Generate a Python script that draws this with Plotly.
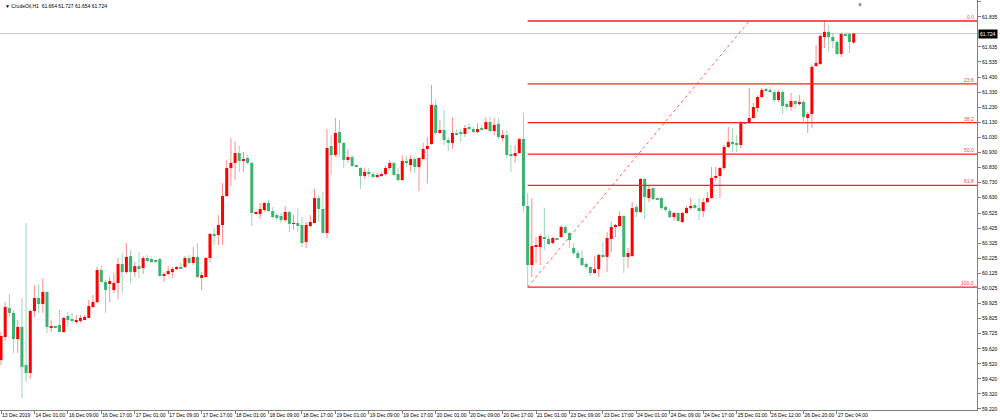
import plotly.graph_objects as go

# ---------------- data (CrudeOil, H1) ----------------
x_labels = ["13 Dec 2019", "14 Dec 01:00", "16 Dec 09:00", "16 Dec 17:00", "17 Dec 01:00",
            "17 Dec 09:00", "17 Dec 17:00", "18 Dec 01:00", "18 Dec 09:00", "18 Dec 17:00",
            "19 Dec 01:00", "19 Dec 09:00", "19 Dec 17:00", "20 Dec 01:00", "20 Dec 09:00",
            "20 Dec 17:00", "21 Dec 01:00", "23 Dec 09:00", "23 Dec 17:00", "24 Dec 01:00",
            "24 Dec 09:00", "24 Dec 17:00", "25 Dec 01:00", "26 Dec 12:00", "26 Dec 20:00",
            "27 Dec 04:00"]
label_step = 8

y_labels = ["61.935", "61.835", "61.635", "61.535", "61.430", "61.330", "61.230",
            "61.130", "61.030", "60.930", "60.830", "60.730", "60.630", "60.525", "60.425",
            "60.325", "60.225", "60.125", "60.025", "59.925", "59.825", "59.725", "59.620",
            "59.520", "59.420", "59.320", "59.220"]

opens = [
    59.546, 59.700, 59.893, 59.860, 59.686, 59.767, 59.513, 59.460, 59.873, 59.960,
    59.920, 60.000, 59.760, 59.767, 59.780, 59.733, 59.840, 59.820, 59.800, 59.807,
    59.820, 59.827, 59.900, 59.933, 60.147, 60.067, 60.060, 60.013, 60.060, 60.187,
    60.133, 60.240, 60.133, 60.173, 60.160, 60.227, 60.220, 60.207, 60.220, 60.107,
    60.120, 60.133, 60.153, 60.167, 60.167, 60.227, 60.194, 60.234, 60.100, 60.100,
    60.227, 60.387, 60.380, 60.447, 60.640, 60.827, 60.861, 60.927, 60.874, 60.894,
    60.861, 60.527, 60.520, 60.547, 60.594, 60.540, 60.514, 60.507, 60.480, 60.534,
    60.454, 60.460, 60.447, 60.334, 60.440, 60.460, 60.627, 60.554, 60.394, 60.974,
    60.914, 61.067, 60.994, 60.881, 60.901, 60.841, 60.827, 60.774, 60.801, 60.787,
    60.767, 60.774, 60.787, 60.827, 60.861, 60.787, 60.747, 60.874, 60.847, 60.887,
    60.834, 60.887, 60.954, 60.987, 61.248, 61.061, 61.081, 61.014, 60.994, 61.061,
    61.061, 61.054, 61.101, 61.087, 61.067, 61.094, 61.087, 61.134, 61.074, 61.121,
    61.034, 61.047, 60.921, 60.907, 60.927, 61.021, 60.574, 60.180, 60.300, 60.300,
    60.367, 60.354, 60.327, 60.354, 60.367, 60.434, 60.394, 60.294, 60.260, 60.227,
    60.187, 60.167, 60.127, 60.153, 60.247, 60.234, 60.354, 60.434, 60.440, 60.507,
    60.234, 60.240, 60.567, 60.534, 60.754, 60.627, 60.694, 60.620, 60.627, 60.567,
    60.540, 60.500, 60.527, 60.467, 60.527, 60.560, 60.580, 60.560, 60.540, 60.600,
    60.627, 60.761, 60.774, 60.827, 60.967, 61.001, 60.994, 60.981, 61.127, 61.127,
    61.161, 61.228, 61.301, 61.348, 61.348, 61.334, 61.281, 61.334, 61.254, 61.234,
    61.274, 61.254, 61.268, 61.161, 61.187, 61.508, 61.521, 61.701, 61.735, 61.701,
    61.668, 61.588, 61.714, 61.721, 61.664]

highs = [
    59.733, 59.933, 59.987, 59.880, 59.813, 59.960, 60.460, 59.880, 60.047, 60.053,
    60.093, 60.007, 59.813, 59.773, 59.880, 59.833, 59.867, 59.860, 59.847, 59.847,
    59.847, 59.947, 59.980, 60.167, 60.180, 60.080, 60.100, 60.127, 60.227, 60.260,
    60.327, 60.280, 60.200, 60.267, 60.240, 60.247, 60.227, 60.214, 60.227, 60.133,
    60.173, 60.167, 60.173, 60.194, 60.240, 60.247, 60.300, 60.327, 60.133, 60.234,
    60.394, 60.427, 60.514, 60.727, 60.881, 61.027, 61.001, 60.974, 60.934, 60.914,
    60.867, 60.540, 60.594, 60.600, 60.614, 60.567, 60.527, 60.527, 60.574, 60.540,
    60.514, 60.560, 60.500, 60.467, 60.514, 60.687, 60.647, 60.667, 61.087, 61.047,
    61.161, 61.147, 61.001, 60.954, 60.914, 60.847, 60.834, 60.827, 60.827, 60.801,
    60.794, 60.801, 60.841, 60.881, 60.867, 60.827, 60.914, 60.907, 60.914, 60.901,
    60.901, 60.994, 61.034, 61.381, 61.288, 61.147, 61.214, 61.034, 61.167, 61.087,
    61.087, 61.114, 61.127, 61.101, 61.127, 61.114, 61.167, 61.167, 61.161, 61.161,
    61.081, 61.081, 60.981, 60.981, 61.027, 61.194, 60.660, 60.627, 60.367, 60.387,
    60.560, 60.380, 60.367, 60.360, 60.447, 60.447, 60.400, 60.327, 60.280, 60.280,
    60.200, 60.173, 60.240, 60.254, 60.334, 60.400, 60.467, 60.454, 60.540, 60.514,
    60.294, 60.600, 60.580, 60.761, 60.761, 60.714, 60.700, 60.627, 60.634, 60.580,
    60.560, 60.534, 60.534, 60.534, 60.574, 60.627, 60.594, 60.627, 60.627, 60.667,
    60.834, 60.834, 60.834, 60.981, 61.101, 61.094, 61.047, 61.141, 61.134, 61.361,
    61.261, 61.314, 61.361, 61.361, 61.368, 61.348, 61.348, 61.348, 61.268, 61.328,
    61.281, 61.314, 61.281, 61.201, 61.514, 61.648, 61.721, 61.808, 61.781, 61.728,
    61.681, 61.728, 61.721, 61.728, 61.727]

lows = [
    59.513, 59.680, 59.833, 59.593, 59.593, 59.293, 59.400, 59.420, 59.833, 59.860,
    59.860, 59.727, 59.733, 59.760, 59.733, 59.727, 59.767, 59.787, 59.787, 59.793,
    59.813, 59.827, 59.893, 59.927, 60.060, 59.860, 59.933, 59.993, 59.953, 59.993,
    60.120, 60.060, 60.100, 60.093, 60.120, 60.200, 60.194, 60.200, 60.100, 60.067,
    60.113, 60.093, 60.147, 60.153, 60.160, 60.187, 60.180, 60.093, 60.013, 60.100,
    60.200, 60.314, 60.314, 60.314, 60.634, 60.707, 60.747, 60.801, 60.801, 60.854,
    60.440, 60.520, 60.487, 60.534, 60.534, 60.494, 60.480, 60.460, 60.467, 60.400,
    60.414, 60.400, 60.300, 60.294, 60.434, 60.460, 60.467, 60.394, 60.360, 60.781,
    60.901, 60.901, 60.827, 60.861, 60.834, 60.834, 60.687, 60.754, 60.767, 60.761,
    60.761, 60.767, 60.774, 60.814, 60.774, 60.741, 60.741, 60.834, 60.801, 60.794,
    60.674, 60.881, 60.727, 60.981, 61.047, 61.054, 60.981, 60.941, 60.954, 61.047,
    61.001, 61.034, 61.081, 61.061, 61.061, 61.081, 61.081, 61.067, 61.047, 61.021,
    61.007, 60.894, 60.801, 60.861, 60.921, 60.534, 60.033, 60.100, 60.194, 60.180,
    60.280, 60.314, 60.320, 60.347, 60.360, 60.387, 60.294, 60.247, 60.214, 60.173,
    60.153, 60.107, 60.120, 60.100, 60.227, 60.133, 60.267, 60.367, 60.434, 60.127,
    60.160, 60.234, 60.500, 60.527, 60.487, 60.600, 60.614, 60.614, 60.547, 60.534,
    60.494, 60.474, 60.467, 60.460, 60.520, 60.547, 60.554, 60.480, 60.500, 60.594,
    60.620, 60.741, 60.627, 60.814, 60.961, 60.934, 60.934, 60.961, 61.121, 61.121,
    61.161, 61.201, 61.294, 61.334, 61.334, 61.268, 61.268, 61.187, 61.214, 61.208,
    61.221, 61.241, 61.134, 61.061, 61.094, 61.501, 61.514, 61.628, 61.601, 61.628,
    61.581, 61.568, 61.708, 61.594, 61.654]

closes = [
    59.707, 59.900, 59.860, 59.686, 59.767, 59.500, 59.460, 59.873, 59.960, 59.920,
    60.000, 59.767, 59.773, 59.765, 59.733, 59.827, 59.813, 59.807, 59.813, 59.827,
    59.833, 59.907, 59.933, 60.147, 60.067, 60.013, 60.073, 60.060, 60.187, 60.133,
    60.234, 60.133, 60.173, 60.160, 60.227, 60.207, 60.200, 60.204, 60.107, 60.120,
    60.140, 60.153, 60.167, 60.157, 60.227, 60.194, 60.234, 60.100, 60.113, 60.227,
    60.387, 60.374, 60.447, 60.640, 60.827, 60.861, 60.927, 60.874, 60.887, 60.861,
    60.527, 60.534, 60.554, 60.594, 60.540, 60.500, 60.494, 60.480, 60.534, 60.454,
    60.460, 60.447, 60.327, 60.447, 60.467, 60.627, 60.554, 60.394, 60.961, 60.914,
    61.061, 60.994, 60.881, 60.901, 60.841, 60.834, 60.774, 60.801, 60.787, 60.767,
    60.781, 60.787, 60.827, 60.861, 60.781, 60.747, 60.874, 60.861, 60.887, 60.834,
    60.894, 60.954, 60.974, 61.248, 61.061, 61.081, 61.014, 60.994, 61.061, 61.054,
    61.057, 61.094, 61.087, 61.067, 61.087, 61.087, 61.134, 61.074, 61.114, 61.034,
    61.047, 60.914, 60.907, 60.927, 61.021, 60.574, 60.180, 60.307, 60.314, 60.374,
    60.354, 60.320, 60.360, 60.347, 60.434, 60.394, 60.347, 60.260, 60.227, 60.180,
    60.167, 60.127, 60.153, 60.247, 60.234, 60.360, 60.434, 60.447, 60.507, 60.234,
    60.260, 60.560, 60.534, 60.754, 60.634, 60.687, 60.620, 60.617, 60.560, 60.547,
    60.500, 60.527, 60.474, 60.527, 60.560, 60.574, 60.560, 60.547, 60.600, 60.627,
    60.761, 60.774, 60.827, 60.967, 61.001, 60.987, 60.981, 61.127, 61.121, 61.161,
    61.234, 61.301, 61.348, 61.341, 61.334, 61.281, 61.334, 61.241, 61.234, 61.274,
    61.254, 61.268, 61.167, 61.187, 61.501, 61.528, 61.708, 61.735, 61.701, 61.674,
    61.588, 61.721, 61.711, 61.668, 61.724]

# Fibonacci retracement anchors (bar index, price)
fib_start_bar, fib_low = 126, 60.033
fib_end_bar, fib_high = 179, 61.808
fib_ratios = [0.0, 0.236, 0.382, 0.5, 0.618, 1.0]

# visible window (bars incl. right chart shift) and price range
x_min, x_max = -0.24, 233.5
y_min, y_max = 59.213, 61.948

# ---------------- styling ----------------
UP = "#ff0000"
DOWN = "#3cb371"
UP_WICK = "rgba(255,0,0,0.45)"
DOWN_WICK = "rgba(60,179,113,0.5)"
FONT = "Liberation Sans, Arial, sans-serif"
MIN_BODY = 0.006

n = len(opens)
idx = list(range(n))
up = [c >= o for o, c in zip(opens, closes)]

fig = go.Figure()

# wicks
for flag, col in ((True, UP_WICK), (False, DOWN_WICK)):
    wx, wy = [], []
    for i in idx:
        if up[i] == flag:
            wx += [i, i, None]
            wy += [lows[i], highs[i], None]
    fig.add_trace(go.Scatter(x=wx, y=wy, mode="lines", line=dict(color=col, width=1),
                             hoverinfo="skip"))

# bodies
bases = [min(o, c) for o, c in zip(opens, closes)]
heights = [max(abs(c - o), MIN_BODY) for o, c in zip(opens, closes)]
fig.add_trace(go.Bar(x=idx, y=heights, base=bases, width=0.72,
                     marker=dict(color=[UP if u else DOWN for u in up], line=dict(width=0))))

# current price line
last = closes[-1]
fig.add_shape(type="line", xref="paper", x0=0, x1=1, yref="y", y0=last, y1=last,
              line=dict(color="#c8c8c8", width=1), layer="below")

# Fibonacci levels
rng = fib_high - fib_low
for r in fib_ratios:
    lvl = fib_high - r * rng
    fig.add_shape(type="line", xref="x", yref="y", x0=fib_start_bar, x1=x_max,
                  y0=lvl, y1=lvl, line=dict(color="#ff2020", width=1.3))
    fig.add_annotation(xref="paper", x=0.998, y=lvl, yref="y", xanchor="right",
                       yanchor="bottom", text=f"{r*100:.1f}", showarrow=False,
                       font=dict(size=5, color="#ff4040", family=FONT), borderpad=0)
fig.add_trace(go.Scatter(x=[fib_start_bar, fib_end_bar], y=[fib_low, fib_high],
                         mode="lines", line=dict(color="rgba(255,60,60,0.8)", width=1, dash="dot"),
                         hoverinfo="skip"))

# price label box
fig.add_annotation(xref="paper", x=1, xanchor="left", xshift=1, yref="y", y=last,
                   text=f"{last:.3f}", showarrow=False, bgcolor="#000000",
                   font=dict(size=5, color="#ffffff", family=FONT), borderpad=1)

# title
fig.add_annotation(xref="paper", yref="paper", x=0.003, y=0.997, xanchor="left", yanchor="top",
                   text=f"▼ CrudeOil,H1  {opens[-1]:.3f} {highs[-1]:.3f} {lows[-1]:.3f} {closes[-1]:.3f}",
                   showarrow=False, font=dict(size=5, color="#000000", family=FONT))
# chart shift marker
fig.add_annotation(xref="x", yref="paper", x=n + 0.5, y=1.0, yanchor="top",
                   text="▼", showarrow=False, font=dict(size=6, color="#808080", family=FONT))

fig.update_layout(
    width=1000, height=420,
    margin=dict(l=0, r=23, t=0, b=10, pad=0, autoexpand=False),
    paper_bgcolor="white", plot_bgcolor="white",
    showlegend=False,
    font=dict(family=FONT, size=5, color="#000000"),
    xaxis=dict(range=[x_min, x_max], tickvals=[i * label_step for i in range(len(x_labels))],
               ticktext=x_labels, ticks="outside", ticklen=3, tickcolor="#808080",
               ticklabelposition="outside right", tickangle=0, automargin=False,
               showline=True, linecolor="#808080",
               mirror=True, showgrid=False, zeroline=False,
               tickfont=dict(size=5, color="#000000", family=FONT)),
    yaxis=dict(range=[y_min, y_max], side="right", tickvals=[float(t) for t in y_labels],
               ticktext=y_labels, ticks="outside", ticklen=3, tickcolor="#808080",
               automargin=False, showline=True, linecolor="#808080", mirror=True,
               showgrid=False, zeroline=False,
               tickfont=dict(size=5, color="#000000", family=FONT)),
)

fig.write_html("out.html", config={"displayModeBar": False},
               post_script="document.body.style.margin='0';document.body.style.overflow='hidden';")
